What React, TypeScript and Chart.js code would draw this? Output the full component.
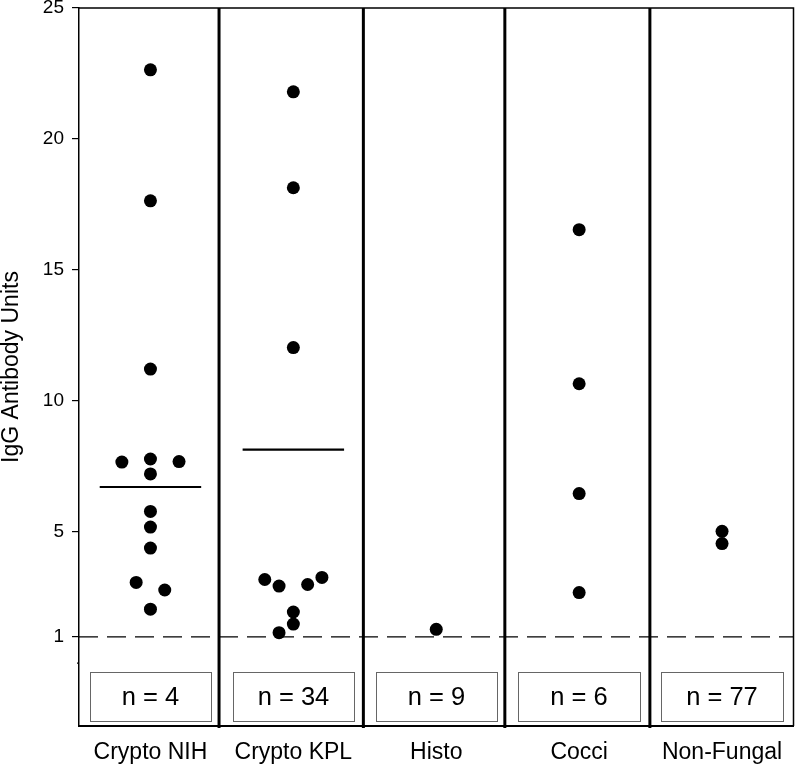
import React, { useEffect, useRef } from 'react';
import { Chart, registerables } from 'chart.js';

Chart.register(...registerables);

const FONT = "'Liberation Sans', Arial, Helvetica, sans-serif";

// ---- data ----
const categories = ['Crypto NIH', 'Crypto KPL', 'Histo', 'Cocci', 'Non-Fungal'];
const sampleSizes = [4, 34, 9, 6, 77];
const yTickValues = [0, 1, 5, 10, 15, 20, 25];
const cutoffValue = 1;
const groupBoundaries = [0.98, 1.99, 2.98, 3.995];

const cryptoNihValues = [22.64, 17.64, 11.22, 7.79, 7.67, 7.69, 7.22, 5.79, 5.19, 4.39, 3.08, 2.79, 2.06];
const cryptoNihJitter = [0, 0, 0, 0, -0.2, 0.2, 0, 0, 0, 0, -0.1, 0.1, 0];
const cryptoKplValues = [21.8, 18.14, 12.04, 3.19, 2.94, 3.0, 3.27, 1.95, 1.49, 1.16];
const cryptoKplJitter = [0, 0, 0, -0.2, -0.1, 0.1, 0.2, 0, 0, -0.1];
const histoValues = [1.29];
const histoJitter = [0];
const cocciValues = [16.54, 10.66, 6.47, 2.69];
const cocciJitter = [0, 0, 0, 0];
const nonFungalValues = [5.03, 4.56];
const nonFungalJitter = [0, 0];

const medianValues: (number | null)[] = [6.72, 8.15, null, null, null];

const groupValues = [cryptoNihValues, cryptoKplValues, histoValues, cocciValues, nonFungalValues];
const groupJitter = [cryptoNihJitter, cryptoKplJitter, histoJitter, cocciJitter, nonFungalJitter];

// ---- layout constants (data units) ----
const MEDIAN_HALF = 0.355;
const BOX_HALF = 0.425;
const BOX_TOP = -0.35;
const BOX_BOTTOM = -2.2;

const panelPlugin = {
  id: 'panels',
  afterDatasetsDraw(chart: any) {
    const { ctx, chartArea, scales } = chart;
    const xs = scales.x;
    const ys = scales.y;
    ctx.save();
    // n boxes
    sampleSizes.forEach((n, i) => {
      const c = i + 0.5;
      const x0 = Math.round(xs.getPixelForValue(c - BOX_HALF));
      const x1 = Math.round(xs.getPixelForValue(c + BOX_HALF));
      const y0 = Math.round(ys.getPixelForValue(BOX_TOP));
      const y1 = Math.round(ys.getPixelForValue(BOX_BOTTOM));
      ctx.strokeStyle = '#666';
      ctx.lineWidth = 1;
      ctx.strokeRect(x0 + 0.5, y0 + 0.5, x1 - x0, y1 - y0);
      ctx.fillStyle = '#000';
      ctx.font = `25.5px ${FONT}`;
      ctx.textAlign = 'center';
      ctx.textBaseline = 'middle';
      ctx.fillText(`n = ${n}`, (x0 + x1) / 2, (y0 + y1) / 2 + 1);
    });
    // thick dividers
    ctx.strokeStyle = '#000';
    ctx.lineWidth = 3;
    groupBoundaries.forEach((b) => {
      const x = xs.getPixelForValue(b);
      ctx.beginPath();
      ctx.moveTo(x, chartArea.top);
      ctx.lineTo(x, chartArea.bottom + 2);
      ctx.stroke();
    });
    // top and right frame
    ctx.lineWidth = 1.5;
    ctx.beginPath();
    ctx.moveTo(chartArea.left, chartArea.top);
    ctx.lineTo(chartArea.right, chartArea.top);
    ctx.lineTo(chartArea.right, chartArea.bottom);
    ctx.stroke();
    // minor tick at zero
    const y0 = ys.getPixelForValue(0);
    ctx.lineWidth = 1.2;
    ctx.beginPath();
    ctx.moveTo(chartArea.left - 2, y0);
    ctx.lineTo(chartArea.left, y0);
    ctx.stroke();
    ctx.restore();
  },
};

export default function App() {
  const canvasRef = useRef<HTMLCanvasElement | null>(null);

  useEffect(() => {
    if (!canvasRef.current) return;

    const points: { x: number; y: number }[] = [];
    groupValues.forEach((vals, i) => {
      vals.forEach((v, k) => points.push({ x: i + 0.5 + groupJitter[i][k], y: v }));
    });

    const medianSets = medianValues
      .map((m, i) =>
        m === null
          ? null
          : {
              data: [
                { x: i + 0.5 - MEDIAN_HALF, y: m },
                { x: i + 0.5 + MEDIAN_HALF, y: m },
              ],
              showLine: true,
              borderColor: '#000',
              borderWidth: 2.2,
              pointRadius: 0,
              pointHoverRadius: 0,
            }
      )
      .filter(Boolean) as any[];

    const chart = new Chart(canvasRef.current, {
      type: 'scatter',
      data: {
        datasets: [
          {
            data: [
              { x: 0, y: cutoffValue },
              { x: 5, y: cutoffValue },
            ],
            showLine: true,
            borderColor: '#000',
            borderWidth: 1.3,
            borderDash: [19, 9],
            pointRadius: 0,
            pointHoverRadius: 0,
          },
          ...medianSets,
          {
            data: points,
            backgroundColor: '#000',
            borderWidth: 0,
            pointRadius: 6.5,
            pointHoverRadius: 6.5,
          },
        ],
      },
      options: {
        animation: false,
        responsive: true,
        maintainAspectRatio: false,
        layout: { padding: { top: 0, right: 2, left: 0, bottom: 0 } },
        plugins: {
          legend: { display: false },
          tooltip: { enabled: false },
        },
        scales: {
          x: {
            type: 'linear',
            min: 0,
            max: 5,
            afterBuildTicks: (scale: any) => {
              scale.ticks = categories.map((_, i) => ({ value: i + 0.5 }));
            },
            afterFit: (scale: any) => {
              scale.height = 42;
            },
            ticks: {
              autoSkip: false,
              maxRotation: 0,
              padding: 0,
              color: '#000',
              font: { family: FONT, size: 23 },
              callback: (_v: any, i: number) => categories[i],
            },
            grid: { display: false, drawTicks: true, tickLength: 13 },
            border: { display: true, color: '#000', width: 2 },
          },
          y: {
            type: 'linear',
            min: -2.4,
            max: 25,
            afterBuildTicks: (scale: any) => {
              scale.ticks = yTickValues.map((v) => ({ value: v }));
            },
            afterFit: (scale: any) => {
              scale.width = 79;
            },
            ticks: {
              padding: 8,
              color: '#000',
              font: { family: FONT, size: 19, lineHeight: 0 },
              callback: (v: any) => (v === 0 ? '' : String(v)),
            },
            grid: {
              display: true,
              drawOnChartArea: false,
              drawTicks: true,
              tickLength: 7,
              lineWidth: 1.2,
              color: (c: any) => (c.tick && c.tick.value === 0 ? 'rgba(0,0,0,0)' : '#000'),
            },
            border: { display: true, color: '#000', width: 1.5 },
            title: {
              display: true,
              text: 'IgG Antibody Units',
              color: '#000',
              font: { family: FONT, size: 23, lineHeight: 1.0 },
              padding: { top: 0, bottom: 0 },
            },
          },
        },
      },
      plugins: [panelPlugin],
    });

    return () => chart.destroy();
  }, []);

  return (
    <div style={{ position: 'absolute', left: 0, top: 0, width: 800, height: 768, background: '#fff' }}>
      <canvas ref={canvasRef} />
    </div>
  );
}
